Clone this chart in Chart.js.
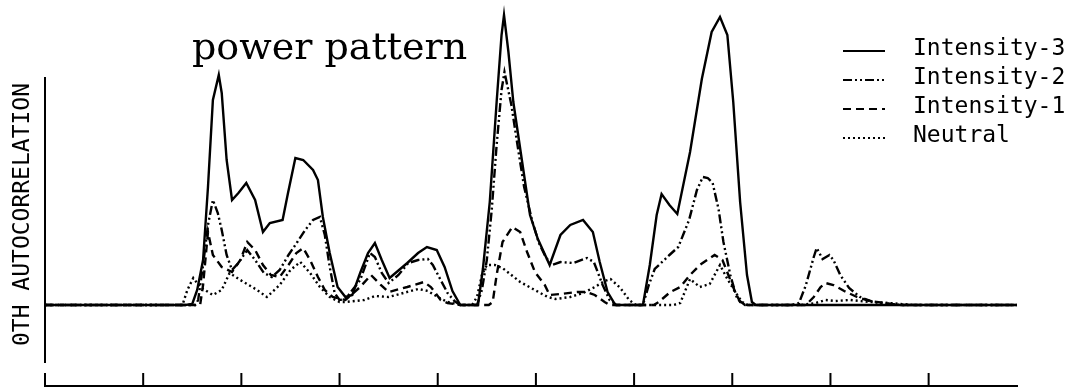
<!DOCTYPE html>
<html>
<head>
<meta charset="utf-8">
<script src="https://cdn.jsdelivr.net/npm/chart.js@4/dist/chart.umd.min.js"></script>
<style>
  body { margin: 0; background: #fff; }
  #powerChart { display: block; }
</style>
</head>
<body>
<canvas id="powerChart" width="1070" height="391"></canvas>
<script>
// [frame, power above the zero line]
const intensity3 = [[0,0],[14.3,0],[15.0,1],[15.5,15],[16.1,45],[16.6,118],[17.1,205],[17.7,230],[18.0,212],[18.5,145],[19.05,105],[19.7,112],[20.5,122],[21.4,105],[22.2,73],[22.9,82],[24.2,85],[24.75,112],[25.5,147],[26.3,145],[27.3,135],[27.8,125],[28.3,88],[29.0,52],[29.8,18],[30.6,8],[31.3,10],[32.1,32],[32.9,52],[33.6,62],[34.3,45],[35.1,27],[36.9,42],[38.0,52],[38.9,58],[39.9,55],[40.7,38],[41.5,14],[42.3,0],[44.1,0],[44.6,36],[45.3,103],[46.0,203],[46.5,270],[46.75,290],[47.2,253],[47.7,203],[48.6,143],[49.4,90],[50.2,66],[51.4,40],[52.5,70],[53.5,80],[54.8,85],[55.8,73],[56.5,43],[57.3,13],[58.1,0],[60.9,0],[61.6,40],[62.3,90],[62.8,111],[63.6,100],[64.4,91],[65.7,153],[66.9,226],[67.9,273],[68.75,288],[69.5,270],[70.1,203],[70.8,103],[71.5,30],[72.0,3],[72.4,0],[99,0]];
const intensity2 = [[0,0],[15.3,0],[15.6,5],[16.1,40],[16.6,80],[17.1,105],[17.6,92],[18.0,75],[18.5,50],[19.05,35],[19.7,42],[20.6,55],[21.4,45],[22.3,32],[23.1,28],[23.9,35],[24.8,50],[25.7,63],[26.5,75],[27.3,85],[28.0,88],[28.5,70],[29.0,38],[29.5,12],[30.0,5],[30.6,6],[32.1,25],[33.1,52],[33.6,48],[34.3,32],[35.0,22],[36.0,30],[37.0,42],[38.0,45],[39.0,46],[39.5,40],[40.3,25],[41.0,12],[41.7,4],[42.3,0],[44.0,0],[44.5,15],[45.0,45],[45.5,95],[46.0,160],[46.5,215],[46.8,233],[47.5,200],[48.2,155],[48.8,118],[49.6,85],[50.3,62],[51.0,48],[51.6,40],[52.5,43],[53.8,42],[55.2,47],[55.9,43],[56.8,20],[57.5,5],[58.2,0],[60.9,0],[61.5,20],[62.1,36],[63.6,50],[64.5,58],[65.6,85],[66.4,115],[67.0,128],[67.5,127],[68.0,122],[68.6,96],[69.1,63],[69.8,30],[70.5,6],[71.3,0],[76.0,0],[76.8,2],[77.5,20],[78.3,48],[78.6,57],[79.2,46],[79.9,50],[80.3,45],[81.0,30],[81.9,17],[83.0,8],[84.4,3],[86.0,1],[87.3,0],[99,0]];
const intensity1 = [[0,0],[15.8,0],[16.1,20],[16.6,73],[17.1,50],[18.0,38],[19.05,33],[19.9,45],[20.6,63],[21.4,55],[22.2,40],[23.0,30],[23.9,28],[24.8,40],[25.6,52],[26.3,57],[27.0,45],[27.8,28],[28.5,15],[29.3,8],[30.6,5],[32.1,18],[33.2,30],[34.2,20],[35.0,13],[36.9,18],[38.6,23],[39.3,18],[40.3,5],[41.0,2],[42.3,0],[45.2,0],[45.6,3],[46.0,30],[46.6,63],[47.6,78],[48.4,73],[49.1,53],[49.9,33],[50.9,20],[51.4,10],[52.5,11],[54.2,13],[55.2,13],[56.0,10],[57.0,3],[57.5,0],[62.0,0],[62.5,3],[63.7,13],[64.7,18],[65.7,30],[66.7,40],[68.2,50],[69.0,45],[69.6,30],[70.3,13],[70.8,3],[71.5,0],[77.5,0],[78.3,8],[79.0,18],[79.5,22],[80.3,20],[81.4,14],[82.7,8],[84.0,4],[85.5,2],[87.0,0],[99,0]];
const neutral = [[0,0],[14.0,0],[14.5,15],[15.1,27],[15.8,18],[17.1,10],[18.0,15],[18.8,32],[19.9,25],[21.6,15],[22.6,8],[23.9,20],[25.0,35],[26.0,43],[27.0,32],[28.0,18],[29.0,8],[30.0,3],[30.6,3],[32.5,5],[33.6,9],[35.0,8],[36.5,12],[38.0,16],[39.0,14],[40.0,8],[41.0,3],[42.3,0],[43.5,0],[44.0,8],[44.5,30],[45.0,40],[45.8,40],[46.6,37],[47.5,30],[48.4,23],[49.7,16],[51.2,8],[52.0,6],[53.5,8],[54.8,12],[56.0,18],[57.0,24],[57.6,26],[58.6,17],[59.5,5],[60.2,0],[64.0,0],[64.7,2],[65.7,26],[66.7,18],[67.7,21],[68.75,40],[69.5,26],[70.3,13],[71.0,3],[71.6,0],[77.0,0],[78.5,2],[79.5,5],[80.5,4],[82.0,5],[84.0,3],[86.0,2],[88.5,0],[99,0]];

const seriesLabels = ['Intensity-3', 'Intensity-2', 'Intensity-1', 'Neutral'];
const xTicks = [0, 10, 20, 30, 40, 50, 60, 70, 80, 90];
const yAxisSpan = [-58, 228];   // the drawn vertical axis is shorter than the plot
const INK = '#000';
const MONO = '"DejaVu Sans Mono", "Liberation Mono", monospace';

const toPoints = arr => arr.map(([x, y]) => ({ x, y }));

// short upward ticks on the bottom line and the left axis line
const frameAxes = {
  id: 'frameAxes',
  afterDatasetsDraw(chart) {
    const { ctx, chartArea, scales: { x, y } } = chart;
    ctx.save();
    ctx.strokeStyle = INK;
    ctx.lineWidth = 2;
    ctx.beginPath();
    ctx.moveTo(chartArea.left, y.getPixelForValue(yAxisSpan[0]));
    ctx.lineTo(chartArea.left, y.getPixelForValue(yAxisSpan[1]));
    xTicks.forEach(v => {
      const px = x.getPixelForValue(v);
      ctx.moveTo(px, chartArea.bottom);
      ctx.lineTo(px, chartArea.bottom - 13);
    });
    ctx.stroke();
    ctx.restore();
  }
};

// title and legend sit inside the plot, so they are drawn by hand
const headings = {
  id: 'headings',
  afterDraw(chart) {
    const ctx = chart.ctx;
    ctx.save();
    ctx.fillStyle = INK;
    ctx.font = '38px "DejaVu Serif", serif';
    ctx.textBaseline = 'alphabetic';
    ctx.fillText('power pattern', 192, 59);

    ctx.font = '23px ' + MONO;
    ctx.textBaseline = 'middle';
    chart.data.datasets.forEach((ds, i) => {
      const yy = 49 + i * 29;
      ctx.beginPath();
      ctx.setLineDash(ds.borderDash || []);
      ctx.lineWidth = 2;
      ctx.strokeStyle = INK;
      ctx.moveTo(843, yy + 2);
      ctx.lineTo(885, yy + 2);
      ctx.stroke();
      ctx.fillText(ds.label, 913, yy);
    });
    ctx.restore();
  }
};

const dashes = [[], [9, 3, 2, 3, 2, 3], [8, 5], [2, 3]];

new Chart(document.getElementById('powerChart'), {
  type: 'line',
  data: {
    datasets: [intensity3, intensity2, intensity1, neutral].map((s, i) => ({
      label: seriesLabels[i],
      data: toPoints(s),
      borderColor: INK,
      borderWidth: 2.4,
      borderDash: dashes[i],
      pointRadius: 0,
      tension: 0,
      fill: false,
      clip: false
    }))
  },
  options: {
    responsive: false,
    animation: false,
    devicePixelRatio: 1,
    layout: { padding: { left: 0, right: 53, top: 43, bottom: 5 } },
    plugins: {
      legend: { display: false },
      title: { display: false },
      tooltip: { enabled: false }
    },
    scales: {
      x: {
        type: 'linear',
        min: 0,
        max: 99,
        ticks: { display: false },
        grid: { display: false, drawTicks: false },
        border: { display: true, color: INK, width: 2 }
      },
      y: {
        min: -81,
        max: 262,
        ticks: { display: false },
        grid: { display: false, drawTicks: false },
        border: { display: false },
        title: {
          display: true,
          text: '0TH AUTOCORRELATION',
          color: INK,
          font: { family: MONO, size: 23 },
          padding: { top: 9, bottom: 0 }
        },
        afterFit: s => { s.width = 45; }
      }
    }
  },
  plugins: [frameAxes, headings]
});
</script>
</body>
</html>
